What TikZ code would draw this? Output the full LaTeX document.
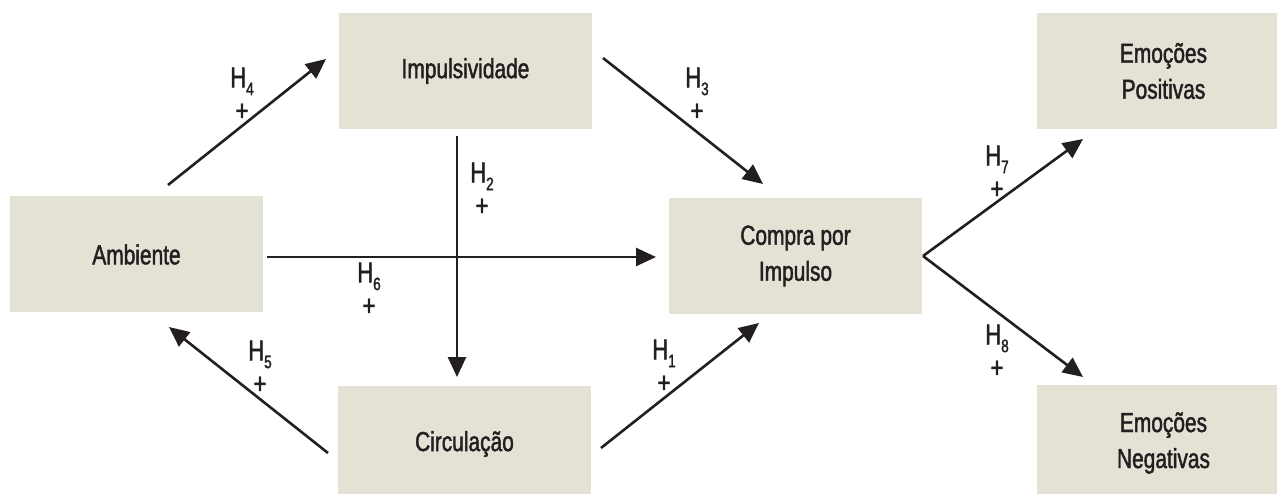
\documentclass[tikz,border=0pt]{standalone}
\usepackage{fontspec}
\setmainfont[FakeStretch=0.76, FakeBold=1.6]{Liberation Sans}
\usetikzlibrary{arrows.meta}
\definecolor{boxfill}{HTML}{E4E1D5}
\definecolor{ink}{HTML}{231F20}
\newcommand{\hyplabel}[1]{H\raisebox{-0.5ex}{\fontsize{18}{18}\selectfont #1}\\+}
\begin{document}
\begin{tikzpicture}[x=1pt, y=-1pt,
  box/.style={fill=boxfill, minimum width=253pt, minimum height=116pt, inner sep=0pt, align=center, text=ink, font=\fontsize{27.5}{36}\selectfont},
  link/.style={draw=ink, line width=2.6pt, -{Triangle[length=20pt, width=18pt]}},
  hyp/.style={align=center, inner sep=0pt, text=ink, font=\fontsize{29}{33}\selectfont}]
\useasboundingbox (0,0) rectangle (1277,494);
\node[box] (impulsividade) at (465.5,71) {Impulsividade};
\node[box] (ambiente) at (136.5,254.5) {Ambiente};
\node[box] (circulacao) at (464.5,444) {Circulação};
\node[box] (compra) at (795.5,256) {Compra por\\Impulso};
\node[box] (positivas) at (1163.5,71) {Emoções\\Positivas};
\node[box] (negativas) at (1163.5,443) {Emoções\\Negativas};
\coordinate (h4s) at (168,185);
\coordinate (h4e) at (326,59);
\coordinate (h3s) at (603,58);
\coordinate (h3e) at (763,184);
\coordinate (h2s) at (457,136);
\coordinate (h2e) at (457,377);
\coordinate (h6s) at (267,257);
\coordinate (h6e) at (656,257);
\coordinate (h5s) at (328,453);
\coordinate (h5e) at (169,327);
\coordinate (h1s) at (601,448);
\coordinate (h1e) at (759,323);
\coordinate (split) at (923,256);
\coordinate (h7e) at (1083,139);
\coordinate (h8e) at (1083,377);
\draw[link] (h4s)--(h4e);
\draw[link] (h3s)--(h3e);
\draw[link] (h2s)--(h2e);
\draw[link] (h6s)--(h6e);
\draw[link] (h5s)--(h5e);
\draw[link] (h1s)--(h1e);
\draw[link] (split)--(h7e);
\draw[link] (split)--(h8e);
\node[hyp] (lh4) at (242,94) {\hyplabel{4}};
\node[hyp] (lh3) at (697,94) {\hyplabel{3}};
\node[hyp] (lh2) at (482,189) {\hyplabel{2}};
\node[hyp] (lh6) at (369,289) {\hyplabel{6}};
\node[hyp] (lh5) at (260,367) {\hyplabel{5}};
\node[hyp] (lh1) at (664,366) {\hyplabel{1}};
\node[hyp] (lh7) at (997,172) {\hyplabel{7}};
\node[hyp] (lh8) at (997,351) {\hyplabel{8}};
\end{tikzpicture}
\end{document}
